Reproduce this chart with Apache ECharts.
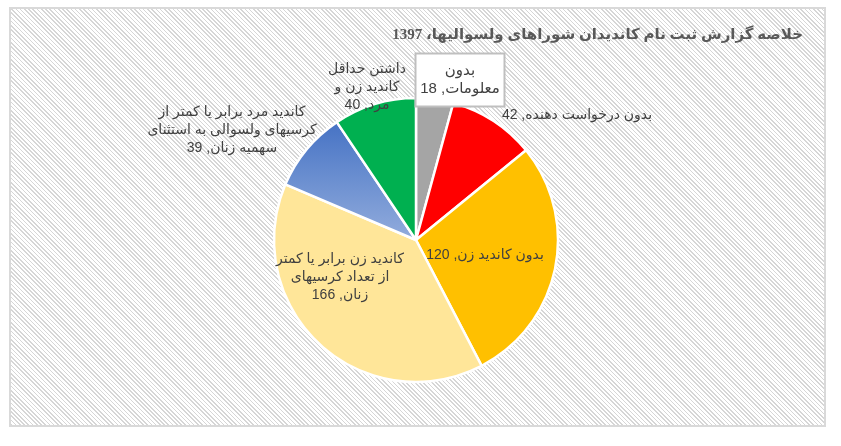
<!DOCTYPE html>
<html>
<head>
<meta charset="utf-8">
<script src="https://cdn.jsdelivr.net/npm/echarts@6/dist/echarts.min.js"></script>
<style>
  html, body { margin: 0; padding: 0; background: #fff; }
  #frame {
    position: absolute; left: 9px; top: 7px; width: 813px; height: 416px;
    border: 2px solid #d9d9d9;
    background: repeating-linear-gradient(45deg, #d6d6d6 0px, #d6d6d6 1.1px, #ffffff 1.1px, #ffffff 3px);
  }
  #chart { position: absolute; left: 0; top: 0; width: 841px; height: 446px; }
</style>
</head>
<body>
<div id="frame"></div>
<div id="chart" dir="rtl"></div>
<script>
const titleText = 'خلاصه گزارش ثبت نام کاندیدان شوراهای ولسوالیها، 1397';
const categories = [
  'بدون معلومات',
  'بدون درخواست دهنده',
  'بدون کاندید زن',
  'کاندید زن برابر یا کمتر از تعداد کرسیهای زنان',
  'کاندید مرد برابر یا کمتر از کرسیهای ولسوالی به استثنای سهمیه زنان',
  'داشتن حداقل کاندید زن و مرد'
];
const values = [18, 42, 120, 166, 39, 40];
const labelTexts = [
  'بدون\nمعلومات',
  'بدون درخواست دهنده',
  'بدون کاندید زن',
  'کاندید زن برابر یا کمتر\nاز تعداد کرسیهای\nزنان',
  'کاندید مرد برابر یا کمتر از\nکرسیهای ولسوالی به استثنای\nسهمیه زنان',
  'داشتن حداقل\nکاندید زن و\nمرد'
];
const colors = ['#a5a5a5', '#ff0000', '#ffc000', '#ffe699', 'blue-gradient', '#00b050'];

const labelPos = [
  { x: 460, y: 80 },
  { x: 577, y: 115 },
  { x: 485, y: 255 },
  { x: 340, y: 277 },
  { x: 232, y: 130 },
  { x: 367, y: 87 }
];

function colorFor(i) {
  if (colors[i] === 'blue-gradient') {
    return new echarts.graphic.LinearGradient(0, 0, 0, 1, [
      { offset: 0, color: '#4572c4' },
      { offset: 1, color: '#93addd' }
    ]);
  }
  return colors[i];
}

const chart = echarts.init(document.getElementById('chart'), null, { renderer: 'canvas' });
const data = categories.map((c, i) => {
  const item = {
    name: c,
    value: values[i],
    itemStyle: { color: colorFor(i) }
  };
  if (i === 0) {
    item.label = {
      backgroundColor: '#ffffff',
      borderColor: '#bfbfbf',
      borderWidth: 2,
      padding: [7, 4, 7, 4],
      width: 79,
      height: 37,
      overflow: 'none',
      fontSize: 15
    };
  }
  return item;
});

chart.setOption({
  animation: false,
  backgroundColor: 'transparent',
  title: {
    text: titleText,
    right: 33,
    top: 23,
    textStyle: {
      fontFamily: '"Liberation Serif", "DejaVu Sans", serif',
      fontWeight: 'bold',
      fontSize: 15,
      color: '#595959'
    }
  },
  series: [{
    type: 'pie',
    center: [416, 240],
    radius: 142,
    startAngle: 90,
    clockwise: true,
    avoidLabelOverlap: false,
    itemStyle: { borderColor: '#ffffff', borderWidth: 2.5 },
    label: {
      show: true,
      position: 'inside',
      formatter: p => labelTexts[p.dataIndex] + ', ' + p.value,
      fontFamily: '"Liberation Sans", "DejaVu Sans", sans-serif',
      fontSize: 14,
      lineHeight: 18,
      color: '#404040',
      align: 'center',
      verticalAlign: 'middle'
    },
    labelLine: { show: false },
    labelLayout: p => ({
      x: labelPos[p.dataIndex].x,
      y: labelPos[p.dataIndex].y,
      align: 'center',
      verticalAlign: 'middle'
    }),
    data: data
  }]
});
</script>
</body>
</html>
